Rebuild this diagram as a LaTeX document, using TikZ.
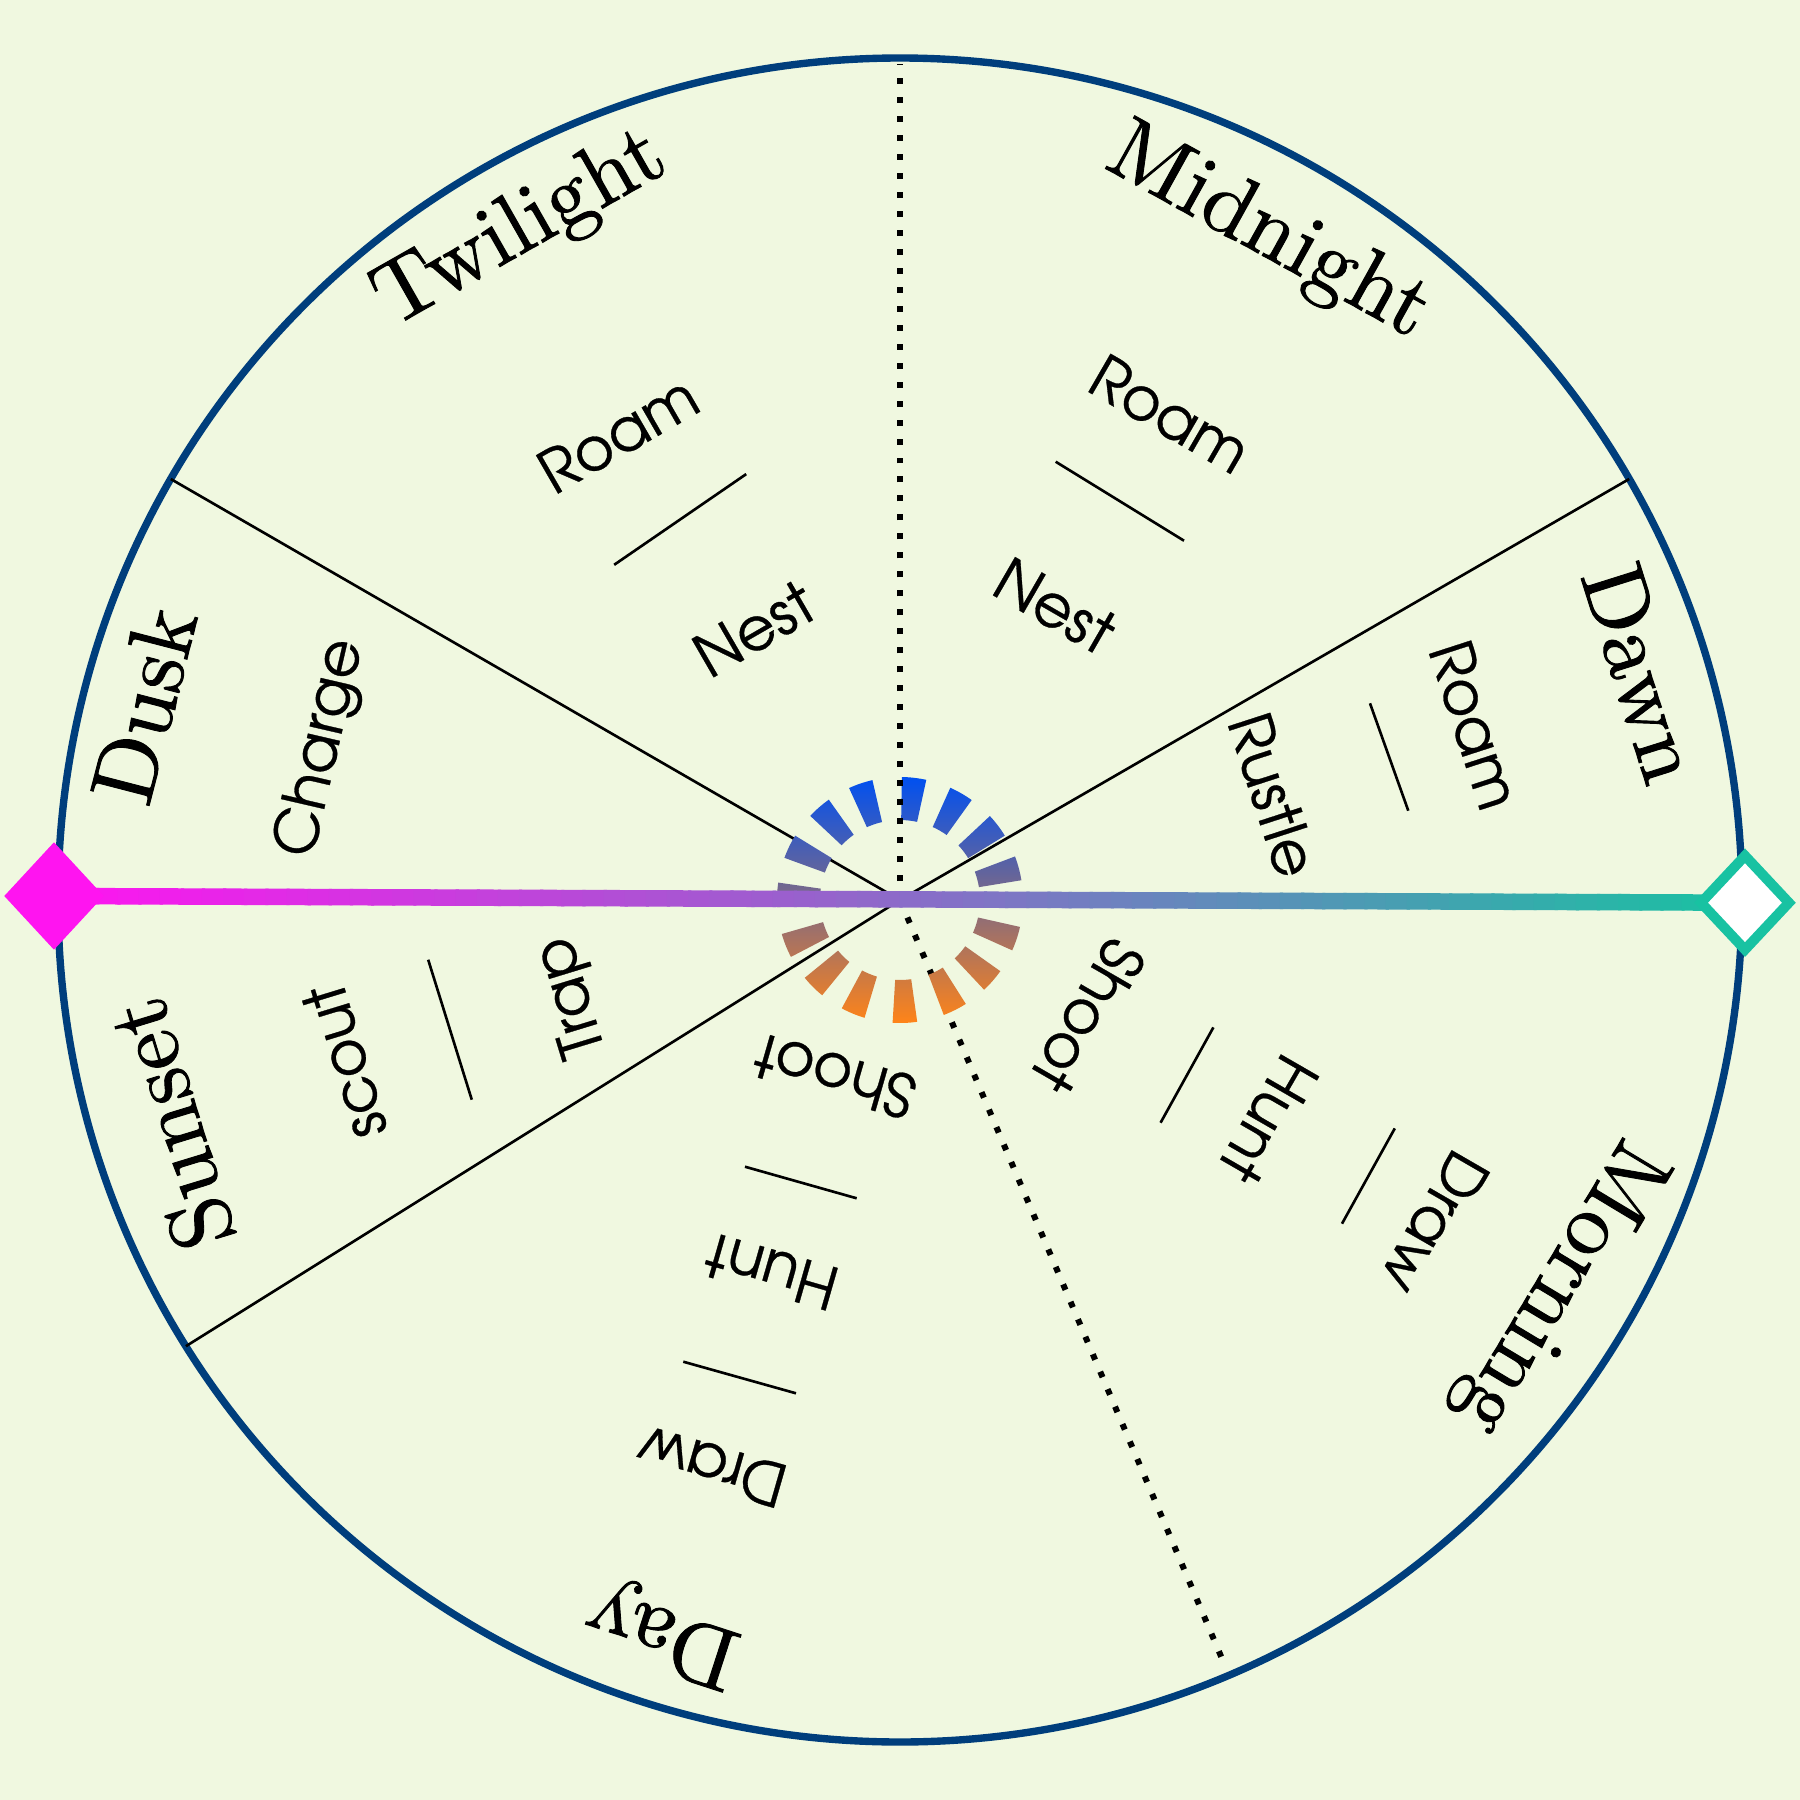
\documentclass[tikz,border=0pt]{standalone}
\usepackage{fontspec}
\newfontfamily\gothic[FakeBold=0.5]{TeX Gyre Adventor}
\newfontfamily\bigserif[FakeBold=1.0]{lmroman10-regular.otf}
\usetikzlibrary{shapes.geometric,calc}
\definecolor{bgc}{HTML}{F0F8E0}
\definecolor{rim}{HTML}{003E7C}
\definecolor{magentaA}{HTML}{FF14F0}
\definecolor{tealA}{HTML}{18C2A2}
\definecolor{ringtop}{HTML}{0050F0}
\definecolor{ringbot}{HTML}{FF8418}
\tikzset{
  period/.style={font=\bigserif\fontsize{25.2}{30}\selectfont, inner sep=0pt},
  act/.style={font=\gothic\fontsize{17}{20}\selectfont, inner sep=0pt},
  radiusline/.style={line width=0.75pt, black},
  dotradius/.style={line width=1.7pt, black, dash pattern=on 1.7pt off 3.7pt},
  sepline/.style={line width=0.75pt, black},
  barpiece/.style={line width=0.165cm},
}
\begin{document}
\begin{tikzpicture}
\useasboundingbox (-9,-9) rectangle (9,9);
\fill[bgc] (-9,-9) rectangle (9,9);
\coordinate (O) at (0,0);
% rim
\draw[rim, line width=2.1pt] (O) circle (8.42);
% radii
\coordinate (r30) at (30:8.42);
\coordinate (r150) at (150:8.42);
\coordinate (r212) at (212:8.42);
\coordinate (r293) at (-67:8.33);
\coordinate (r90) at (90:8.36);
\draw[radiusline] (O) -- (r30);
\draw[radiusline] (O) -- (r150);
\draw[radiusline] (O) -- (r212);
\draw[dotradius] (O) -- (r293);
% ring of segments
\shade[top color=ringtop, bottom color=ringbot]
  \foreach \a in {83.4,60.1,37.3,15,-18.4,-41.1,-63.4,-87.7,-112.5,-135,-158.2,177.6,154.2,131.1,108.7}{
    ({\a-5.75}:0.80) arc[start angle={\a-5.75}, end angle={\a+5.75}, radius=0.80]
    -- ({\a+5.75}:1.23) arc[start angle={\a+5.75}, end angle={\a-5.75}, radius=1.23] -- cycle
  };
\draw[dotradius] (O) -- (r90);
% bar and end diamonds
\coordinate (lc) at (-8.46,0.04);
\coordinate (rc) at (8.45,-0.027);
\foreach \i in {0,...,79}{
  \pgfmathsetmacro{\p}{100-(\i+0.5)*100/80}
  \draw[barpiece, color=magentaA!\p!tealA]
    ($(lc)!{\i/80}!(rc)$) -- ($(lc)!{min(1,(\i+1.15)/80)}!(rc)$);
}
\node[diamond, fill=magentaA, minimum width=1.0cm, minimum height=1.08cm, inner sep=0pt] (lend) at (lc) {};
\node[diamond, draw=tealA, fill=white, line width=2.85pt, minimum width=0.92cm, minimum height=0.98cm, inner sep=0pt] (rend) at (rc) {};
% period labels
\node[period, rotate=-29] (midnight) at (3.68,6.66) {Midnight};
\node[period, rotate=29.6] (twilight) at (-3.79,6.70) {Twilight};
\node[period, rotate=-72.5] (dawn) at (7.42,2.27) {Dawn};
\node[period, rotate=-121] (morning) at (6.58,-3.86) {Morning};
\node[period, rotate=162] (day) at (-2.367,-7.317) {Day};
\node[period, rotate=107] (sunset) at (-7.30,-2.24) {Sunset};
\node[period, rotate=75.5] (dusk) at (-7.56,1.95) {Dusk};
% Midnight activities
\node[act, rotate=-30] (mnroam) at (2.70,4.86) {Roam};
\node[act, rotate=-30] (mnnest) at (1.55,2.94) {Nest};
\coordinate (mns1) at (1.557,4.383); \coordinate (mns2) at (2.84,3.593);
\draw[sepline] (mns1) -- (mns2);
% Twilight activities
\node[act, rotate=30] (twroam) at (-2.82,4.66) {Roam};
\node[act, rotate=30] (twnest) at (-1.46,2.71) {Nest};
\coordinate (tws1) at (-2.858,3.352); \coordinate (tws2) at (-1.538,4.259);
\draw[sepline] (tws1) -- (tws2);
% Dawn activities
\node[act, rotate=-72] (dwroam) at (5.75,1.75) {Roam};
\node[act, rotate=-72] (dwrustle) at (3.733,1.05) {Rustle};
\coordinate (dws1) at (4.70,1.967); \coordinate (dws2) at (5.083,0.893);
\draw[sepline] (dws1) -- (dws2);
% Morning activities
\node[act, rotate=-120] (moshoot) at (1.883,-1.16) {Shoot};
\node[act, rotate=-120] (mohunt) at (3.685,-2.193) {Hunt};
\node[act, rotate=-120] (modraw) at (5.35,-3.226) {Draw};
\coordinate (mos1) at (2.606,-2.227); \coordinate (mos2) at (3.134,-1.274);
\coordinate (mos3) at (4.42,-3.237); \coordinate (mos4) at (4.948,-2.284);
\draw[sepline] (mos1) -- (mos2);
\draw[sepline] (mos3) -- (mos4);
% Day activities
\node[act, rotate=164] (dyshoot) at (-0.65,-1.767) {Shoot};
\node[act, rotate=164] (dyhunt) at (-1.283,-3.717) {Hunt};
\node[act, rotate=164] (dydraw) at (-1.883,-5.667) {Draw};
\coordinate (dys1) at (-1.55,-2.667); \coordinate (dys2) at (-0.433,-2.983);
\coordinate (dys3) at (-2.167,-4.617); \coordinate (dys4) at (-1.04,-4.933);
\draw[sepline] (dys1) -- (dys2);
\draw[sepline] (dys3) -- (dys4);
% Sunset activities
\node[act, rotate=107] (ssscout) at (-5.556,-1.619) {scout};
\node[act, rotate=107] (sstrap) at (-3.283,-0.967) {Trap};
\coordinate (sss1) at (-4.718,-0.597); \coordinate (sss2) at (-4.282,-1.997);
\draw[sepline] (sss1) -- (sss2);
% Dusk activity
\node[act, rotate=77] (dkcharge) at (-5.783,1.517) {Charge};
\end{tikzpicture}
\end{document}
